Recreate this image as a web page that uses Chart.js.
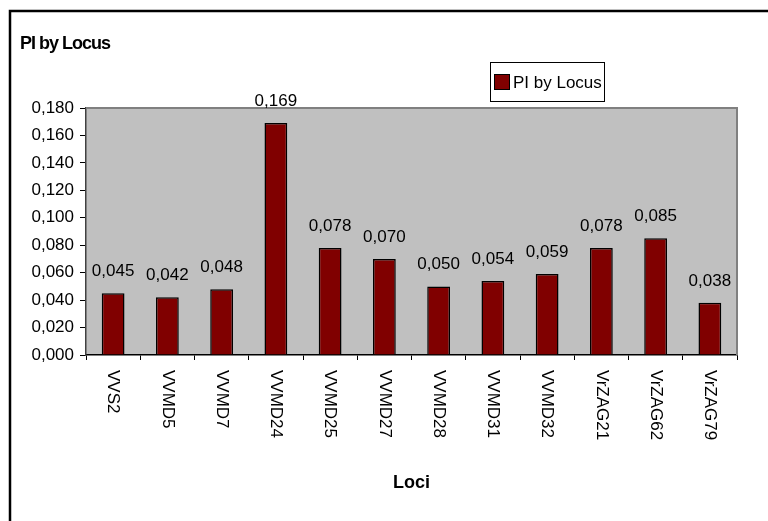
<!DOCTYPE html>
<html>
<head>
<meta charset="utf-8">
<script src="https://cdn.jsdelivr.net/npm/chart.js@4"></script>
<style>
  html, body { margin: 0; padding: 0; background: #fff; }
  #wrap { width: 768px; height: 521px; }
</style>
</head>
<body>
<div id="wrap"><canvas id="chart" width="768" height="521"></canvas></div>
<script>
var loci = ['VVS2', 'VVMD5', 'VVMD7', 'VVMD24', 'VVMD25', 'VVMD27', 'VVMD28', 'VVMD31', 'VVMD32', 'VrZAG21', 'VrZAG62', 'VrZAG79'];
var piValues = [0.045, 0.042, 0.048, 0.169, 0.078, 0.070, 0.050, 0.054, 0.059, 0.078, 0.085, 0.038];
var seriesName = 'PI by Locus';
var chartTitle = 'PI by Locus';
var xTitle = 'Loci';

var FONT = '"Liberation Sans", Arial, sans-serif';

function fmt(v) {
    return v.toFixed(3).replace('.', ',');
}

// grey plot background, frame, title, legend
var decorPlugin = {
    id: 'decor',
    beforeDraw: function (chart) {
        var ctx = chart.ctx;
        var a = chart.chartArea;
        ctx.save();
        ctx.fillStyle = '#fff';
        ctx.fillRect(0, 0, chart.width, chart.height);
        ctx.fillStyle = '#C0C0C0';
        ctx.fillRect(a.left, a.top, a.right - a.left, a.bottom - a.top);
        ctx.restore();
    },
    afterDraw: function (chart) {
        var ctx = chart.ctx;
        var a = chart.chartArea;
        ctx.save();
        // plot frame top/right
        ctx.strokeStyle = '#808080';
        ctx.lineWidth = 2;
        ctx.beginPath();
        ctx.moveTo(a.left, a.top);
        ctx.lineTo(a.right, a.top);
        ctx.lineTo(a.right, a.bottom);
        ctx.stroke();

        // outer chart border (cropped on right and bottom)
        ctx.strokeStyle = '#000';
        ctx.lineWidth = 2.5;
        ctx.strokeRect(10, 11, 800, 600);

        // title
        ctx.fillStyle = '#000';
        ctx.font = 'bold 18px ' + FONT;
        ctx.letterSpacing = '-1px';
        ctx.textAlign = 'left';
        ctx.textBaseline = 'alphabetic';
        ctx.fillText(chartTitle, 20, 49);
        ctx.letterSpacing = '0px';

        // legend
        ctx.fillStyle = '#fff';
        ctx.fillRect(490, 62, 114, 39);
        ctx.strokeStyle = '#000';
        ctx.lineWidth = 1;
        ctx.strokeRect(490.5, 62.5, 114, 39);
        ctx.fillStyle = '#800000';
        ctx.fillRect(494, 74, 16, 16);
        ctx.strokeRect(494.5, 74.5, 15, 15);
        ctx.fillStyle = '#000';
        ctx.font = '17px ' + FONT;
        ctx.textBaseline = 'middle';
        ctx.fillText(seriesName, 513, 83);

        // x axis title
        ctx.font = 'bold 18px ' + FONT;
        ctx.textAlign = 'center';
        ctx.fillText(xTitle, (a.left + a.right) / 2, 483);

        // rotated category labels, reading downward
        var xs = chart.scales.x;
        ctx.font = '17px ' + FONT;
        ctx.textAlign = 'left';
        ctx.textBaseline = 'middle';
        loci.forEach(function (name, i) {
            ctx.save();
            ctx.translate(xs.getPixelForValue(i), xs.top + 15);
            ctx.rotate(Math.PI / 2);
            ctx.fillText(name, 0, 0);
            ctx.restore();
        });

        // value labels above bars
        var meta = chart.getDatasetMeta(0);
        ctx.textAlign = 'center';
        ctx.textBaseline = 'alphabetic';
        meta.data.forEach(function (bar, i) {
            ctx.fillText(fmt(piValues[i]), bar.x, bar.y - 17);
        });
        ctx.restore();
    }
};

new Chart(document.getElementById('chart'), {
    type: 'bar',
    data: {
        labels: loci,
        datasets: [{
            label: seriesName,
            data: piValues,
            backgroundColor: '#800000',
            borderColor: '#000',
            borderWidth: 1.5,
            categoryPercentage: 1,
            barPercentage: 0.42
        }]
    },
    options: {
        responsive: false,
        animation: false,
        layout: { padding: { left: 0, top: 108, right: 31, bottom: 0 } },
        plugins: {
            legend: { display: false },
            title: { display: false },
            tooltip: { enabled: false }
        },
        scales: {
            x: {
                afterFit: function (scale) { scale.height = 166; },
                ticks: { display: false },
                grid: { drawOnChartArea: false, color: '#000', tickLength: 5, offset: true },
                border: { color: '#000', width: 1.5 }
            },
            y: {
                min: 0,
                max: 0.18,
                afterFit: function (scale) { scale.width = 86; },
                ticks: {
                    stepSize: 0.02,
                    color: '#000',
                    padding: 6,
                    font: { family: FONT, size: 17 },
                    callback: function (v) { return fmt(v); }
                },
                grid: { drawOnChartArea: false, color: '#000', tickLength: 6 },
                border: { color: '#404040', width: 1.5 }
            }
        }
    },
    plugins: [decorPlugin]
});
</script>
</body>
</html>
